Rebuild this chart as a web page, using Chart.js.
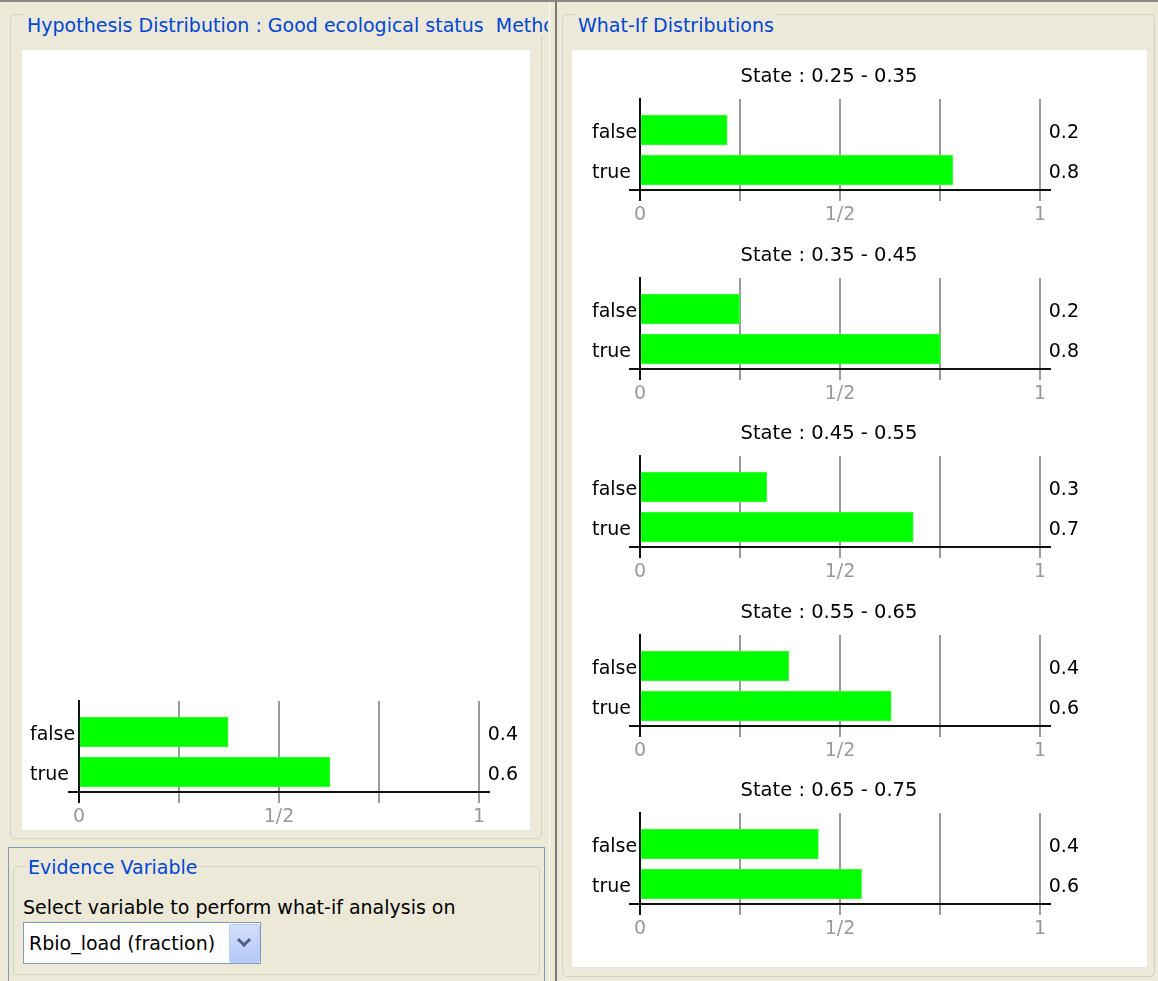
<!DOCTYPE html>
<html>
<head>
<meta charset="utf-8">
<title>What-If Distributions</title>
<script src="https://cdn.jsdelivr.net/npm/chart.js@4.4.1/dist/chart.umd.min.js"></script>
<style>
    html, body { margin: 0; padding: 0; }
    body {
        width: 1158px; height: 981px; position: relative; overflow: hidden;
        background: #ece9d8; color: #000;
        font-family: 'DejaVu Sans', sans-serif; font-size: 19px;
    }
    .abs { position: absolute; }
    .group { position: absolute; border: 1px solid #d0d0bf; border-radius: 5px; }
    .groupTitle {
        position: absolute; background: #ece9d8; color: #0046d5;
        padding: 0 2px; line-height: 22px; white-space: nowrap;
    }
    .white { position: absolute; background: #fff; }
    .text { position: absolute; line-height: 22px; white-space: nowrap; }
    canvas { position: absolute; }
</style>
</head>
<body>
<div class="abs" style="left:0;top:0;width:1158px;height:2px;background:#8a8984"></div>

<!-- panneau gauche -->
<div class="abs" style="left:0;top:2px;width:548px;height:979px;overflow:hidden">
    <div class="group" style="left:10px;top:12px;width:530px;height:823px"></div>
    <div class="white" style="left:22px;top:48px;width:508px;height:780px"></div>
    <span class="groupTitle" style="left:25px;top:12px">Hypothesis Distribution : Good ecological status&nbsp; Method</span>
    <canvas id="hypothesisChart" width="508" height="155" style="left:22px;top:685px"></canvas>

    <div class="abs" style="left:8px;top:845px;width:535px;height:150px;border:1px solid #7f9db9"></div>
    <div class="group" style="left:13px;top:864px;width:525px;height:107px"></div>
    <span class="groupTitle" style="left:26px;top:854px">Evidence Variable</span>
    <span class="text" style="left:23px;top:894px">Select variable to perform what-if analysis on</span>
    <div class="abs" style="left:23px;top:920px;width:236px;height:40px;background:#fff;border:1px solid #7f9db9"></div>
    <span class="text" style="left:29px;top:930px">Rbio_load (fraction)</span>
    <div class="abs" style="left:229px;top:922px;width:29px;height:37px;border-radius:2px;border:1px solid #bccdf5;background:linear-gradient(#d2defc,#b4c8f6)">
        <div class="abs" style="left:9px;top:10px;width:7px;height:7px;border-right:3px solid #4d6185;border-bottom:3px solid #4d6185;transform:rotate(45deg)"></div>
    </div>
</div>

<!-- séparateur -->
<div class="abs" style="left:549px;top:2px;width:1px;height:979px;background:#fbfaf5"></div>
<div class="abs" style="left:555px;top:2px;width:2px;height:979px;background:#7b7a72"></div>

<!-- panneau droit -->
<div class="group" style="left:562px;top:14px;width:591px;height:961px"></div>
<div class="white" style="left:572px;top:50px;width:575px;height:917px"></div>
<span class="groupTitle" style="left:576px;top:14px">What-If Distributions</span>
<div id="whatIfCharts"></div>

<script>
const categories = ['false', 'true'];
const xTickLabels = { 0: '0', 0.5: '1/2', 1: '1' };

// distribution de l'hypothèse
const hypothesisValues = [0.373, 0.627];
const hypothesisLabels = ['0.4', '0.6'];

// distributions what-if, un graphique par état
const stateTitles = [
    'State : 0.25 - 0.35',
    'State : 0.35 - 0.45',
    'State : 0.45 - 0.55',
    'State : 0.55 - 0.65',
    'State : 0.65 - 0.75'
];
const falseValues = [0.218, 0.249, 0.317, 0.372, 0.446];
const trueValues = [0.782, 0.751, 0.683, 0.628, 0.554];
const falseLabels = ['0.2', '0.2', '0.3', '0.4', '0.4'];
const trueLabels = ['0.8', '0.8', '0.7', '0.6', '0.6'];

const baseFont = { family: 'DejaVu Sans', size: 19 };
const gridColor = (c) => (c.tick && c.tick.value === 0 ? '#111111' : '#9a9a9a');

// axe horizontal qui dépasse un peu de la zone du graphique
const axisLinePlugin = {
    id: 'axisLine',
    afterDraw: (chart) => {
        const { ctx, scales: { x } } = chart;
        ctx.save();
        ctx.strokeStyle = '#111111';
        ctx.lineWidth = 2;
        ctx.beginPath();
        ctx.moveTo(x.left - 11, x.top);
        ctx.lineTo(x.right + 11, x.top);
        ctx.stroke();
        ctx.restore();
    }
};

const indexScale = (position, labels, width) => ({
    type: 'linear',
    position: position,
    reverse: true,
    offset: false,
    min: -0.775,
    max: 1.5,
    z: 1,
    grid: { display: false, drawTicks: false },
    border: { display: position === 'left', color: '#111111', width: 2 },
    afterBuildTicks: (scale) => {
        scale.ticks = labels.map((label, i) => ({ value: i }));
    },
    afterFit: (scale) => {
        scale.width = width;
        // pas de marge verticale réservée pour les étiquettes
        scale.paddingTop = 0;
        scale.paddingBottom = 0;
    },
    ticks: {
        autoSkip: false,
        // à droite : étiquettes en miroir pour ne pas être coupées par la largeur de l'axe
        mirror: position === 'right',
        crossAlign: position === 'left' ? 'far' : 'near',
        padding: position === 'left' ? 8 : 39,
        labelOffset: 3,
        color: '#000',
        font: baseFont,
        callback: (value) => labels[value]
    }
});

const buildChart = (canvas, values, valueLabels, title, dims) => {
    const config = {
        type: 'bar',
        data: {
            datasets: [{
                data: values.map((v, i) => ({ x: v, y: i })),
                backgroundColor: '#00ff00',
                borderColor: '#3cff3c',
                borderWidth: 1,
                borderSkipped: false,
                barThickness: 30
            }]
        },
        options: {
            indexAxis: 'y',
            responsive: false,
            animation: false,
            events: [],
            layout: { padding: { left: dims.padLeft, right: dims.padRight, top: dims.padTop, bottom: 0 } },
            plugins: {
                legend: { display: false },
                tooltip: { enabled: false },
                title: {
                    display: !!title,
                    text: title,
                    color: '#000',
                    font: { family: 'DejaVu Sans', size: 19.5, weight: 'normal', lineHeight: '20px' },
                    padding: { top: 6, bottom: 12 }
                }
            },
            scales: {
                x: {
                    type: 'linear',
                    min: 0,
                    max: 1,
                    grid: { color: gridColor, tickColor: gridColor, lineWidth: 2, tickLength: 11 },
                    border: { display: false },
                    afterFit: (scale) => {
                        scale.height = 50;
                    },
                    ticks: {
                        stepSize: 0.25,
                        autoSkip: false,
                        maxRotation: 0,
                        padding: 3,
                        color: '#999999',
                        font: baseFont,
                        callback: (value) => xTickLabels[value] ?? ''
                    }
                },
                y: indexScale('left', categories, dims.yWidth),
                y2: indexScale('right', valueLabels, dims.y2Width)
            }
        },
        plugins: [axisLinePlugin]
    };
    return new Chart(canvas.getContext('2d'), config);
};

buildChart(document.getElementById('hypothesisChart'), hypothesisValues, hypothesisLabels, '',
    { padLeft: 8, padRight: 0, padTop: 14, yWidth: 49, y2Width: 51 });

const whatIfDOM = document.querySelector('#whatIfCharts');
stateTitles.forEach((title, k) => {
    const top = Math.round(99 + 178.5 * k) - 38;
    const canvas = document.createElement('canvas');
    canvas.width = 574;
    canvas.height = 179;
    canvas.style.left = '572px';
    canvas.style.top = top + 'px';
    whatIfDOM.appendChild(canvas);
    buildChart(canvas, [falseValues[k], trueValues[k]], [falseLabels[k], trueLabels[k]], title,
        { padLeft: 20, padRight: 80, padTop: 0, yWidth: 48, y2Width: 26 });
});
</script>
</body>
</html>
